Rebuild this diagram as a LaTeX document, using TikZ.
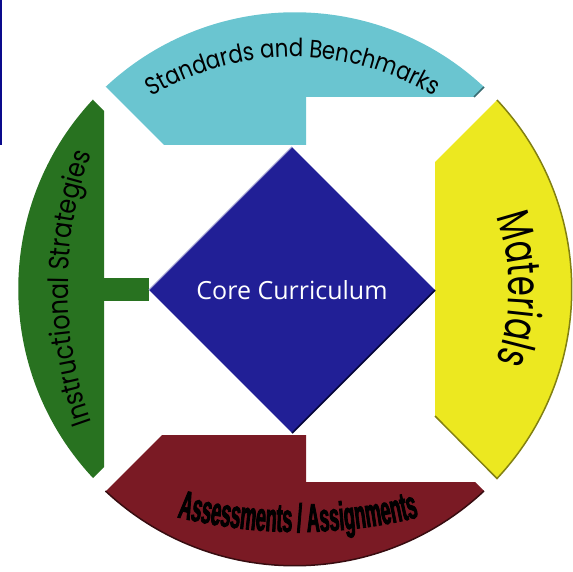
\documentclass[tikz,border=0pt]{standalone}
\usepackage{fontspec}
\usetikzlibrary{shapes.geometric,decorations.text}
\newfontfamily\gothic{Poppins}[FakeStretch=0.85]
\newfontfamily\narrowgothic{Poppins}[FakeStretch=0.7]
\newfontfamily\heavy{Liberation Sans}[FakeStretch=0.45, FakeBold=2]
\newfontfamily\coretext{Open Sans}
\definecolor{stdcyan}{RGB}{106,197,208}
\definecolor{matyellow}{RGB}{236,232,32}
\definecolor{asred}{RGB}{122,26,36}
\definecolor{insgreen}{RGB}{40,114,32}
\definecolor{coreblue}{RGB}{33,31,150}
\definecolor{edgeblue}{RGB}{10,10,140}
\begin{document}
\begin{tikzpicture}[x=1pt,y=1pt,
    core/.style={diamond, fill=coreblue, minimum width=286pt, minimum height=286pt, inner sep=0pt, text=white, font=\coretext\fontsize{25}{30}\selectfont},
    ringtext/.style={decorate, decoration={text along path, text align=center, text={#1}}}]
        \useasboundingbox (0,0) rectangle (573,571);
        \draw[edgeblue, line width=1.5pt] (0.75,426) -- (0.75,571);

        \fill[stdcyan] (106,484) -- (164,426) -- (306,426) -- (306,474) -- (474,474) -- (484,484) arc[start angle=46.9, end angle=133.1, radius=277] -- cycle; % Standards.
        \fill[matyellow] (435,409) -- (497,471) arc[start angle=43.1, end angle=-43.1, radius=277] -- (435,155) -- cycle; % Materials.
        \fill[asred] (106,80) -- (162,136) -- (306,136) -- (306,89) -- (475,89) -- (484,80) arc[start angle=-46.9, end angle=-133.1, radius=277] -- cycle; % Assessments.
        \fill[insgreen] (93,471) -- (104,460) -- (104,104) -- (93,93) arc[start angle=223.1, end angle=136.9, radius=277] -- cycle; % Strategies.
        \fill[insgreen] (104,270) rectangle (149,293);

        \draw[stdcyan!55!black, line width=1.5pt] (474,474) -- (484,484);
        \draw[matyellow!55!black, line width=1.5pt] (497,471) arc[start angle=43.1, end angle=-43.1, radius=277] -- (435,155);
        \draw[asred!45!black, line width=1.5pt] (484,80) arc[start angle=-46.9, end angle=-133.1, radius=277];

        \node[core] (core) at (292,281) {Core Curriculum};
        \draw[edgeblue!40!black, line width=1.5pt] (core.east) -- (core.south);
        \draw[coreblue!45!white, line width=1pt] (core.west) -- (core.north);

        \path[ringtext={|\gothic\fontsize{25}{30}\selectfont|Standards and Benchmarks}] ([shift={(150:273)}]293,241) arc[start angle=150, end angle=30, radius=273];
        \path[ringtext={|\gothic\fontsize{28}{32}\selectfont|Instructional Strategies}] ([shift={(200:400)}]468,283) arc[start angle=200, end angle=160, radius=400];
        \path[ringtext={|\narrowgothic\fontsize{46}{50}\selectfont|Materials}] ([shift={(30:214)}]295,282) arc[start angle=30, end angle=-30, radius=214];
        \path[ringtext={|\heavy\bfseries\fontsize{40}{44}\selectfont|Assessments / Assignments}] ([shift={(245:500)}]298,539) arc[start angle=245, end angle=295, radius=500];
    \end{tikzpicture}
\end{document}
